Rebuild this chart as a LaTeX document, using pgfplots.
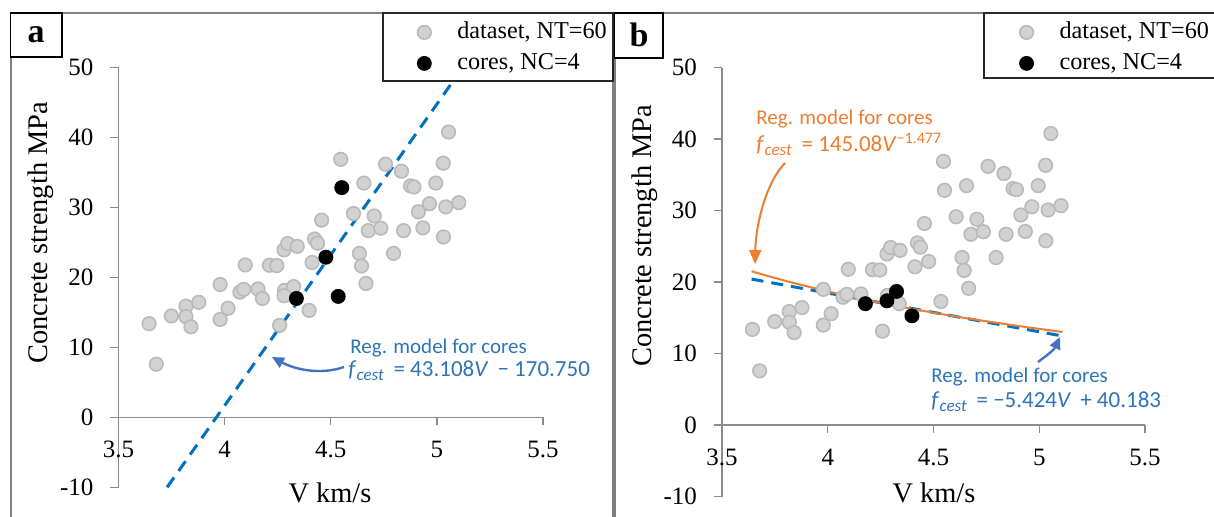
\documentclass[border=0pt]{standalone}
\usepackage{fontspec}
\setmainfont{Liberation Serif}
\newfontfamily\calib{Carlito}
\usepackage{pgfplots}
\usepackage{pgfplotstable}
\pgfplotsset{compat=1.18}
\usetikzlibrary{arrows.meta}

\definecolor{axgray}{RGB}{140,140,140}
\definecolor{framegray}{RGB}{128,128,128}
\definecolor{ptfill}{RGB}{210,210,210}
\definecolor{ptedge}{RGB}{186,186,186}
\definecolor{lineblue}{RGB}{0,112,192}
\definecolor{textblue}{RGB}{46,117,182}
\definecolor{arrowblue}{RGB}{68,114,196}
\definecolor{exorange}{RGB}{237,125,49}

\pgfplotstableread{
V f
3.644 13.4
3.678 7.6
3.749 14.5
3.818 15.9
3.818 14.4
3.841 12.95
3.878 16.45
3.979 19.0
3.979 14.0
4.016 15.6
4.072 17.9
4.090 18.3
4.097 21.8
4.157 18.35
4.178 17.0
4.211 21.75
4.246 21.7
4.259 13.15
4.280 23.95
4.297 24.85
4.342 24.45
4.282 18.15
4.325 18.7
4.280 17.4
4.398 15.3
4.412 22.15
4.424 25.5
4.438 24.9
4.457 28.2
5.055 40.8
4.547 36.9
4.758 36.2
4.833 35.2
5.030 36.35
4.656 33.5
4.876 33.1
4.892 32.95
4.995 33.5
4.607 29.15
4.705 28.8
4.913 29.4
4.965 30.55
5.042 30.1
5.103 30.7
4.677 26.7
4.736 27.05
4.843 26.7
4.934 27.1
5.031 25.8
4.635 23.45
4.796 23.45
4.645 21.65
4.666 19.15
4.338 17.0
4.477 22.9
4.535 17.3
4.552 32.85
}\dataset

\pgfplotstableread{
V f
4.338 17.0
4.477 22.9
4.535 17.3
4.552 32.85
}\coresA

\pgfplotstableread{
V f
4.178 17.0
4.280 17.4
4.325 18.7
4.398 15.3
}\coresB

\pgfplotsset{
  panel/.style={
    scale only axis,
    xmin=3.5, xmax=5.5, ymin=-10, ymax=50,
    axis x line=middle, axis y line=left,
    hide obscured x ticks=false, hide obscured y ticks=false,
    xtick={3.5,4,4.5,5,5.5},
    xticklabels={3.5,4,4.5,5,5.5},
    ytick={-10,0,10,20,30,40,50},
    yticklabels={-10,0,10,20,30,40,50},
    /pgf/number format/assume math mode=true,
    axis line style={draw=axgray, line width=0.7pt, -},
    tick style={draw=axgray, line width=0.7pt},
    major tick length=4pt,
    tick align=outside,
    tick label style={font=\fontsize{12.5}{14}\selectfont},
    xticklabel style={yshift=-4.5pt},
    yticklabel style={xshift=-5pt},
    clip=false,
    legend cell align=left,
  },
  gpts/.style={only marks, mark=*, mark size=3.4pt,
    mark options={fill=ptfill, draw=ptedge, line width=0.8pt}},
  bpts/.style={only marks, mark=*, mark size=3.5pt,
    mark options={fill=black, draw=black}},
}

\begin{document}
\begin{tikzpicture}
\useasboundingbox (0,0) rectangle (607pt,258.5pt);
% frames (pixel coordinates)
\begin{scope}[x=0.5pt,y=-0.5pt,yshift=258.5pt]
  \draw[framegray, line width=1pt] (10.5,540) -- (10.5,13) -- (613,13) -- (613,540);
  \draw[framegray, line width=1pt] (614.5,540) -- (614.5,13) -- (1230,13);
  \draw[black, line width=0.8pt, fill=white] (10.5,13) rectangle (62,57);
  \node at (36,35) {\fontsize{17}{18}\selectfont\bfseries a};
  \draw[black, line width=0.8pt, fill=white] (614.5,13) rectangle (663,58);
  \node at (639,35) {\fontsize{17}{18}\selectfont\bfseries b};
\end{scope}

% ---------- panel a ----------
\begin{axis}[panel,
  at={(59.25pt,14.85pt)}, anchor=south west,
  width=212.25pt, height=209.8pt,
  legend style={draw=none, fill=none, at={(rel axis cs:0.703,1.1137)},
    anchor=north west, inner sep=0pt, row sep=3.5pt, column sep=13pt,
    nodes={inner sep=0pt, text height=9pt, text depth=3pt,
      font=\fontsize{12.1}{13}\selectfont}},
]
\addplot[gpts] table {\dataset};
\addlegendentry{dataset, NT=60}
\addplot[lineblue, line width=1.5pt, dash pattern=on 6pt off 4pt, forget plot]
  coordinates {(3.729,-10) (5.121,50)};
\addplot[bpts] table {\coresA};
\addlegendentry{cores, NC=4}
\draw[black!85, line width=0.6pt, fill=white]
  (rel axis cs:0.6231,1.1304) rectangle (rel axis cs:1.1649,0.9685);
\end{axis}

% ---------- panel b ----------
\begin{axis}[panel,
  at={(361pt,10.15pt)}, anchor=south west,
  width=211.5pt, height=214.5pt,
  legend style={draw=none, fill=none, at={(rel axis cs:0.7025,1.1112)},
    anchor=north west, inner sep=0pt, row sep=3.5pt, column sep=13pt,
    nodes={inner sep=0pt, text height=9pt, text depth=3pt,
      font=\fontsize{12.1}{13}\selectfont}},
]
\addplot[gpts] table {\dataset};
\addlegendentry{dataset, NT=60}
\addplot[lineblue, line width=1.5pt, dash pattern=on 6pt off 4pt, forget plot]
  coordinates {(3.64,20.43) (5.11,12.47)};
\addplot[exorange, line width=1pt, smooth, forget plot]
  coordinates {(3.64,21.53) (3.8,20.19) (4.0,18.72) (4.2,17.42) (4.4,16.27)
               (4.6,15.23) (4.8,14.31) (5.0,13.47) (5.11,13.04)};
\addplot[bpts] table {\coresB};
\addlegendentry{cores, NC=4}
\draw[black!85, line width=0.6pt, fill=white]
  (rel axis cs:0.6194,1.1275) rectangle (rel axis cs:1.25,0.9760);
\end{axis}

% labels and annotations (pixel coordinates)
\begin{scope}[x=0.5pt,y=-0.5pt,yshift=258.5pt]
  \node[anchor=base] at (330,503) {\fontsize{14.2}{16}\selectfont V km/s};
  \node[anchor=base] at (934,503) {\fontsize{14.2}{16}\selectfont V km/s};
  \node[rotate=90, anchor=base] at (48,233) {\fontsize{14.2}{16}\selectfont Concrete strength MPa};
  \node[rotate=90, anchor=base] at (651,236) {\fontsize{14.2}{16}\selectfont Concrete strength MPa};
  % panel a annotation
  \node[anchor=base west, text=textblue, inner sep=0pt] at (350,354)
    {\calib\fontsize{10.5}{12}\selectfont Reg. model for cores};
  \node[anchor=base west, text=textblue, inner sep=0pt] at (348,377)
    {\calib\fontsize{11.5}{12}\selectfont \textit{f}\raisebox{-0.35ex}{\fontsize{8.5}{9}\selectfont\textit{cest}}\hspace{0.2em} = 43.108\textit{V}\, − 170.750};
  \draw[arrowblue, line width=1.2pt, -{Triangle[length=6pt,width=5.5pt]}]
    (344,367) .. controls (318,376) and (292,368) .. (272,357);
  % panel b orange annotation
  \node[anchor=base west, text=exorange, inner sep=0pt] at (756,125)
    {\calib\fontsize{10.5}{12}\selectfont Reg. model for cores};
  \node[anchor=base west, text=exorange, inner sep=0pt] at (756,152)
    {\calib\fontsize{11.5}{12}\selectfont \textit{f}\raisebox{-0.35ex}{\fontsize{8.5}{9}\selectfont\textit{cest}}\hspace{0.2em} = 145.08\textit{V}\textsuperscript{−1.477}};
  \draw[exorange, line width=1pt, -{Triangle[length=7pt,width=6pt]}]
    (785,163) .. controls (768,180) and (756,220) .. (755,264);
  % panel b blue annotation
  \node[anchor=base west, text=textblue, inner sep=0pt] at (931,383)
    {\calib\fontsize{10.5}{12}\selectfont Reg. model for cores};
  \node[anchor=base west, text=textblue, inner sep=0pt] at (931,408)
    {\calib\fontsize{11.5}{12}\selectfont \textit{f}\raisebox{-0.35ex}{\fontsize{8.5}{9}\selectfont\textit{cest}}\hspace{0.2em} = −5.424\textit{V}\, + 40.183};
  \draw[arrowblue, line width=1.2pt, -{Triangle[length=6pt,width=5.5pt]}]
    (1038,362) .. controls (1046,356) and (1054,350) .. (1060,337);
\end{scope}
\end{tikzpicture}
\end{document}
